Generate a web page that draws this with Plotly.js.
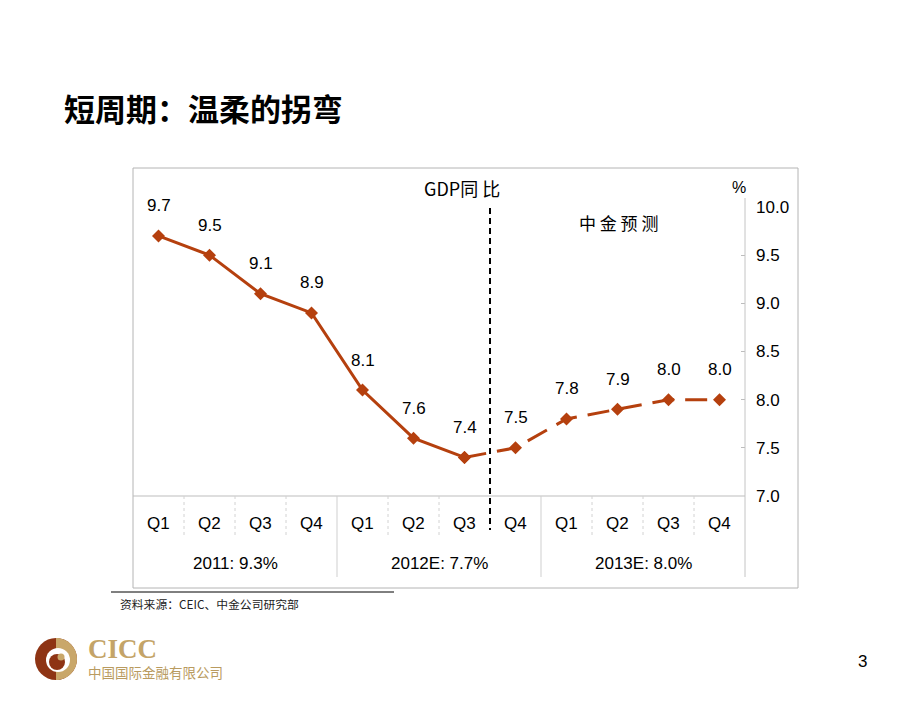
<!DOCTYPE html>
<html><head><meta charset="utf-8">
<script src="https://cdn.plot.ly/plotly-3.0.1.min.js"></script>
<style>html,body{margin:0;padding:0;background:#fff;}#chart{width:920px;height:711px;}</style>
</head><body><div id="chart"></div>
<script>
// ---- data ----
var quarters = ['Q1','Q2','Q3','Q4','Q1','Q2','Q3','Q4','Q1','Q2','Q3','Q4'];
var yearLabels = ['2011: 9.3%','2012E: 7.7%','2013E: 8.0%'];
var gdpActual = [9.7, 9.5, 9.1, 8.9, 8.1, 7.6, 7.4];          // 2011Q1 - 2012Q3
var gdpForecast = [7.4, 7.5, 7.8, 7.9, 8.0, 8.0];             // 2012Q3 - 2013Q4
var labelValues = [9.7, 9.5, 9.1, 8.9, 8.1, 7.6, 7.4, 7.5, 7.8, 7.9, 8.0, 8.0];

// ---- geometry helpers (plot area: x 133..745, y 207..496 px) ----
var L = 133, R = 745, T = 207, B = 496;
function X(px){ return (px - L) / (R - L); }
function Y(py){ return (B - py) / (B - T); }
var cellW = (R - L) / quarters.length;

var color = '#B5400E';
var font = 'Liberation Sans, Arial, sans-serif';
var cjk = 'Noto Sans CJK SC, sans-serif';

var xa = gdpActual.map(function(_, i){ return i; });
var xf = gdpForecast.map(function(_, i){ return i + gdpActual.length - 1; });

var traces = [
  {x: xa, y: gdpActual, mode: 'lines+markers', type: 'scatter',
   line: {color: color, width: 3}, marker: {symbol: 'diamond', size: 10, color: color},
   cliponaxis: false, hoverinfo: 'skip'},
  {x: xf, y: gdpForecast, mode: 'lines+markers', type: 'scatter',
   line: {color: color, width: 3, dash: '22px,11px'}, marker: {symbol: 'diamond', size: 10, color: color},
   cliponaxis: false, hoverinfo: 'skip'}
];

var ann = [];
function txt(px, py, text, f, anchor){
  ann.push({x: X(px), y: Y(py), xref: 'paper', yref: 'paper', xanchor: anchor || 'center', yanchor: 'middle',
    text: text, showarrow: false, font: f});
}
labelValues.forEach(function(v, i){
  ann.push({x: i, y: v, xref: 'x', yref: 'y', text: v.toFixed(1), showarrow: false,
    xanchor: 'center', yshift: 30, yanchor: 'middle', font: {family: font, size: 17, color: '#000'}});
});
quarters.forEach(function(q, i){
  txt(L + cellW * (i + 0.5), 523, q, {family: font, size: 17, color: '#000'});
});
yearLabels.forEach(function(t, k){
  txt(L + cellW * (4 * k + 2), 563, t, {family: font, size: 17, color: '#000'});
});
// titles & texts
txt(62, 107, '<b>短周期：温柔的拐弯</b>', {family: cjk, size: 31, color: '#000'}, 'left');
txt(462, 188, 'GDP同 比', {family: cjk, size: 18, color: '#000'});
txt(618, 222, '中 金 预 测', {family: cjk, size: 17, color: '#000'});
txt(739, 187, '%', {family: font, size: 16, color: '#000'});
txt(118, 603, '资料来源：CEIC、中金公司研究部', {family: cjk, size: 11.8, color: '#222'}, 'left');
txt(86, 649, '<b>CICC</b>', {family: 'Liberation Serif, serif', size: 27, color: '#C4A468'}, 'left');
txt(86, 672, '中国国际金融有限公司', {family: cjk, size: 13.5, color: '#B99B60'}, 'left');
txt(862, 661, '3', {family: font, size: 17, color: '#000'});

var shapes = [];
function line(x0, y0, x1, y1, c, w, d){
  shapes.push({type: 'line', xref: 'paper', yref: 'paper', x0: X(x0), y0: Y(y0), x1: X(x1), y1: Y(y1),
    line: {color: c, width: w, dash: d || 'solid'}});
}
// frame box
shapes.push({type: 'rect', xref: 'paper', yref: 'paper', x0: X(133), x1: X(798), y0: Y(168), y1: Y(588),
  line: {color: '#b4b4b4', width: 1}, layer: 'below'});
// x axis line & y axis line
line(L, B, R, B, '#bdbdbd', 1);
line(R, 198, R, 577, '#c4c4c4', 1);
// category separators
for (var i = 1; i < quarters.length; i++) {
  var px = L + cellW * i;
  if (i === 7) continue;
  if (i % 4 === 0) line(px, B, px, 577, '#cfcfcf', 1);
  else line(px, B, px, 537, '#d2d2d2', 1, 'dot');
}
// forecast divider
line(L + cellW * 7, 208, L + cellW * 7, 530, '#000', 2, '6px,4px');
// source underline
line(111, 592, 394, 592, '#000', 1);

// logo
function circ(cx, cy, r, fill){
  shapes.push({type: 'circle', xref: 'paper', yref: 'paper', x0: X(cx - r), x1: X(cx + r),
    y0: Y(cy + r), y1: Y(cy - r), fillcolor: fill, line: {width: 0}});
}
function halfRight(cx, cy, r, fill){
  var k = 0.5523;
  function p(a, b){ return X(a) + ',' + Y(b); }
  var path = 'M' + p(cx, cy - r) +
    ' C' + p(cx + k * r, cy - r) + ' ' + p(cx + r, cy - k * r) + ' ' + p(cx + r, cy) +
    ' C' + p(cx + r, cy + k * r) + ' ' + p(cx + k * r, cy + r) + ' ' + p(cx, cy + r) + ' Z';
  shapes.push({type: 'path', xref: 'paper', yref: 'paper', path: path, fillcolor: fill, line: {width: 0}});
}
circ(56, 659, 21, '#8E3414');
halfRight(56, 659, 21, '#C9A76A');
circ(58, 660, 12, '#ffffff');
circ(57, 662, 8, '#8E3414');
circ(61, 657, 3.5, '#C9A76A');

var layout = {
  width: 920, height: 711,
  margin: {l: L, r: 920 - R, t: T, b: 711 - B, pad: 0},
  paper_bgcolor: '#fff', plot_bgcolor: 'rgba(0,0,0,0)',
  showlegend: false,
  xaxis: {range: [-0.5, quarters.length - 0.5], showticklabels: false, ticks: '', showgrid: false,
    zeroline: false, showline: false, fixedrange: true},
  yaxis: {side: 'right', range: [7, 10], dtick: 0.5, tick0: 7, tickformat: '.1f', ticks: 'inside',
    ticklen: 4, tickcolor: '#bdbdbd', showgrid: false, zeroline: false, showline: false,
    ticklabelstandoff: 10, tickfont: {family: font, size: 17, color: '#000'}, fixedrange: true},
  annotations: ann,
  shapes: shapes
};
Plotly.newPlot('chart', traces, layout, {staticPlot: true, displayModeBar: false});
</script>
</body></html>
